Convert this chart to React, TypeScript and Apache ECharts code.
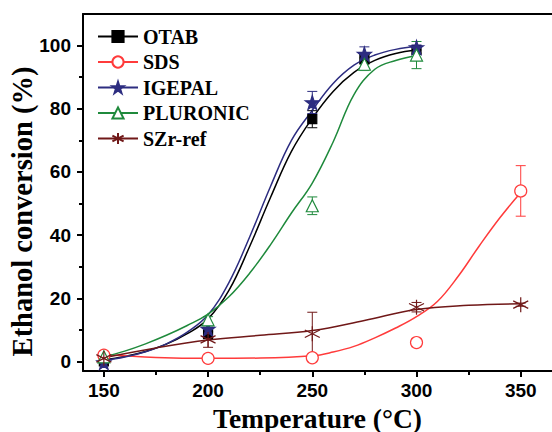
import React, { useEffect, useRef } from "react";
import * as echarts from "echarts";

// Measured conversions (%) with error half-widths
const surfactantTemps = [150, 200, 250, 275, 300];
const extendedTemps = [150, 200, 250, 300, 350];

const otabValues = [0, 8.7, 76.7, 95.7, 98.6];
const otabErrors = [0, 1, 2.7, 1.5, 1];
const igepalValues = [-0.3, 10.3, 82, 97.3, 99.4];
const igepalErrors = [0, 1, 3.5, 2.3, 0.8];
const pluronicValues = [1.5, 13.2, 49.3, 94.1, 97];
const pluronicErrors = [0, 1, 2.8, 2, 4.3];
const sdsValues = [2, 1, 1.2, 6, 54];
const sdsErrors = [0, 0, 0, 1.3, 8];
const szrValues = [1, 7, 8.8, 17.2, 18];
const szrErrors = [0, 2.5, 6.8, 1.5, 0.5];

// Fitted curves
const fitTemps = [150, 160, 170, 180, 190, 200, 210, 220, 230, 240, 250, 260, 270, 280, 290, 300];
const otabFit = [0.5, 1.6, 3.2, 5.5, 8.8, 13.5, 22.5, 36.5, 52, 66.5, 77, 85.5, 91.5, 95.3, 97.5, 98.6];
const igepalFit = [0.3, 1.4, 3.1, 5.6, 9.3, 14.8, 25, 39.5, 55.5, 70, 79.5, 88, 93.8, 97, 98.8, 99.7];
const pluronicFit = [1.5, 3.3, 5.6, 8.3, 11.4, 15, 20.5, 28, 37, 47, 56.5, 69.5, 84.5, 92.5, 95.3, 96.8];
const sdsFitTemps = [150, 175, 200, 225, 250, 260, 270, 280, 290, 300, 310, 320, 330, 340, 350];
const sdsFit = [2.2, 1.3, 1.0, 1.1, 1.8, 3, 4.8, 7.5, 10.6, 14.2, 19, 27, 36.5, 45.5, 53.5];
const szrFitTemps = [150, 175, 200, 225, 250, 275, 300, 325, 350];
const szrFit = [1.2, 4.3, 6.8, 8.3, 9.8, 13, 16.5, 17.8, 18.3];

const xMajorTicks = [150, 200, 250, 300, 350];
const xMinorTicks = [175, 225, 275, 325];
const yMajorTicks = [0, 20, 40, 60, 80, 100];
const yMinorTicks = [10, 30, 50, 70, 90];

const STAR =
  "path://M50,0 L61.2,34.5 L97.6,34.5 L68.2,55.9 L79.4,90.5 L50,69.1 L20.6,90.5 L31.8,55.9 L2.4,34.5 L38.8,34.5 Z";
const ASTERISK = "path://M0,-10 L0,10 M-8.66,-5 L8.66,5 M-8.66,5 L8.66,-5";

type Spec = {
  name: string;
  color: string;
  temps: number[];
  values: number[];
  errors: number[];
  fitT: number[];
  fitV: number[];
  symbol: string;
  size: number;
  fill: string;
};

const specs: Spec[] = [
  { name: "OTAB", color: "#000000", temps: surfactantTemps, values: otabValues, errors: otabErrors, fitT: fitTemps, fitV: otabFit, symbol: "rect", size: 9, fill: "#000000" },
  { name: "SDS", color: "#FF3B3B", temps: extendedTemps, values: sdsValues, errors: sdsErrors, fitT: sdsFitTemps, fitV: sdsFit, symbol: "circle", size: 12, fill: "#ffffff" },
  { name: "IGEPAL", color: "#2D2D80", temps: surfactantTemps, values: igepalValues, errors: igepalErrors, fitT: fitTemps, fitV: igepalFit, symbol: STAR, size: 14, fill: "#2D2D80" },
  { name: "PLURONIC", color: "#1F8A3C", temps: surfactantTemps, values: pluronicValues, errors: pluronicErrors, fitT: fitTemps, fitV: pluronicFit, symbol: "triangle", size: 12, fill: "#ffffff" },
  { name: "SZr-ref", color: "#701818", temps: extendedTemps, values: szrValues, errors: szrErrors, fitT: szrFitTemps, fitV: szrFit, symbol: ASTERISK, size: 15, fill: "rgba(0,0,0,0)" },
];

const X_MIN = 140;
const X_MAX = 365;
const Y_MIN = -3;
const Y_MAX = 110;

export default function App() {
  const ref = useRef<HTMLDivElement>(null);

  useEffect(() => {
    if (!ref.current) return;
    const chart = echarts.init(ref.current, undefined, { renderer: "svg" });

    const fitSeries = specs.map((s) => ({
      type: "line",
      name: s.name,
      data: s.fitT.map((t, i) => [t, s.fitV[i]]),
      smooth: 0.4,
      showSymbol: false,
      symbol: s.symbol,
      symbolSize: s.size,
      lineStyle: { color: s.color, width: 1.5 },
      itemStyle: { color: s.fill, borderColor: s.color, borderWidth: 1.2 },
      z: 2,
      silent: true,
    }));

    const errorSeries = specs.map((s) => {
      const color = s.color;
      return {
        type: "custom",
        name: s.name,
        z: 3,
        silent: true,
        data: s.temps
          .map((t, i) => [t, s.values[i] - s.errors[i], s.values[i] + s.errors[i], s.errors[i]])
          .filter((d) => d[3] > 0),
        renderItem: (_params: any, api: any) => {
          const x = api.value(0);
          const hi = api.coord([x, api.value(2)]);
          const lo = api.coord([x, api.value(1)]);
          const w = 5;
          const style = { stroke: color, lineWidth: 1 };
          return {
            type: "group",
            children: [
              { type: "line", shape: { x1: hi[0], y1: hi[1], x2: lo[0], y2: lo[1] }, style },
              { type: "line", shape: { x1: hi[0] - w, y1: hi[1], x2: hi[0] + w, y2: hi[1] }, style },
              { type: "line", shape: { x1: lo[0] - w, y1: lo[1], x2: lo[0] + w, y2: lo[1] }, style },
            ],
          };
        },
      };
    });

    const pointSeries = specs.map((s) => ({
      type: "scatter",
      name: s.name,
      data: s.temps.map((t, i) => [t, s.values[i]]),
      symbol: s.symbol,
      symbolSize: s.size,
      itemStyle: { color: s.fill, borderColor: s.color, borderWidth: 1.2, opacity: 1 },
      z: 4,
      silent: true,
    }));

    const tickFont = {
      fontFamily: "Liberation Sans, Arial, sans-serif",
      fontWeight: "bold" as const,
      fontSize: 19,
      color: "#000",
    };
    const serif = "Liberation Serif, Times New Roman, serif";
    const axisLine = { show: true, onZero: false, lineStyle: { color: "#000", width: 2 } };

    chart.setOption({
      animation: false,
      backgroundColor: "#ffffff",
      grid: { left: 83, right: 0, top: 14, bottom: 61, outerBoundsMode: "none" },
      legend: {
        data: specs.map((s) => s.name),
        orient: "vertical",
        left: 97,
        top: 26.5,
        padding: 0,
        itemWidth: 40,
        itemHeight: 14,
        itemGap: 5.5,
        selectedMode: false,
        textStyle: {
          fontFamily: serif,
          fontWeight: "bold",
          fontSize: 20,
          color: "#000",
        },
      },
      xAxis: [
        {
          type: "value",
          min: X_MIN,
          max: X_MAX,
          position: "bottom",
          axisLine,
          axisTick: { show: true, customValues: xMajorTicks, length: 6, lineStyle: { color: "#000", width: 2 } },
          axisLabel: { show: true, customValues: xMajorTicks, margin: 10, ...tickFont },
          splitLine: { show: false },
          name: "Temperature (°C)",
          nameLocation: "middle",
          nameGap: 33,
          nameMoveOverlap: false,
          nameTextStyle: { fontFamily: serif, fontWeight: "bold", fontSize: 27.5, color: "#000" },
        },
        {
          type: "value",
          min: X_MIN,
          max: X_MAX,
          position: "top",
          axisLine,
          axisTick: { show: false },
          axisLabel: { show: false },
          splitLine: { show: false },
        },
        {
          type: "value",
          min: X_MIN,
          max: X_MAX,
          position: "bottom",
          axisLine: { show: false, onZero: false },
          axisTick: { show: true, customValues: xMinorTicks, length: 4, lineStyle: { color: "#000", width: 2 } },
          axisLabel: { show: false },
          splitLine: { show: false },
        },
      ],
      yAxis: [
        {
          type: "value",
          min: Y_MIN,
          max: Y_MAX,
          position: "left",
          axisLine,
          axisTick: { show: true, customValues: yMajorTicks, length: 6, lineStyle: { color: "#000", width: 2 } },
          axisLabel: { show: true, customValues: yMajorTicks, margin: 12, ...tickFont },
          splitLine: { show: false },
          name: "Ethanol conversion (%)",
          nameLocation: "middle",
          nameGap: 46,
          nameMoveOverlap: false,
          nameTextStyle: {
            fontFamily: serif,
            fontWeight: "bold",
            fontSize: 28.5,
            color: "#000",
            padding: [0, 38, 0, 0],
          },
        },
        {
          type: "value",
          min: Y_MIN,
          max: Y_MAX,
          position: "left",
          offset: 0,
          axisLine: { show: false, onZero: false },
          axisTick: { show: true, customValues: yMinorTicks, length: 4, lineStyle: { color: "#000", width: 2 } },
          axisLabel: { show: false },
          splitLine: { show: false },
        },
      ],
      series: [...fitSeries, ...errorSeries, ...pointSeries],
    });

    return () => chart.dispose();
  }, []);

  return <div ref={ref} style={{ width: 552, height: 432, position: "fixed", left: 0, top: 0 }} />;
}
